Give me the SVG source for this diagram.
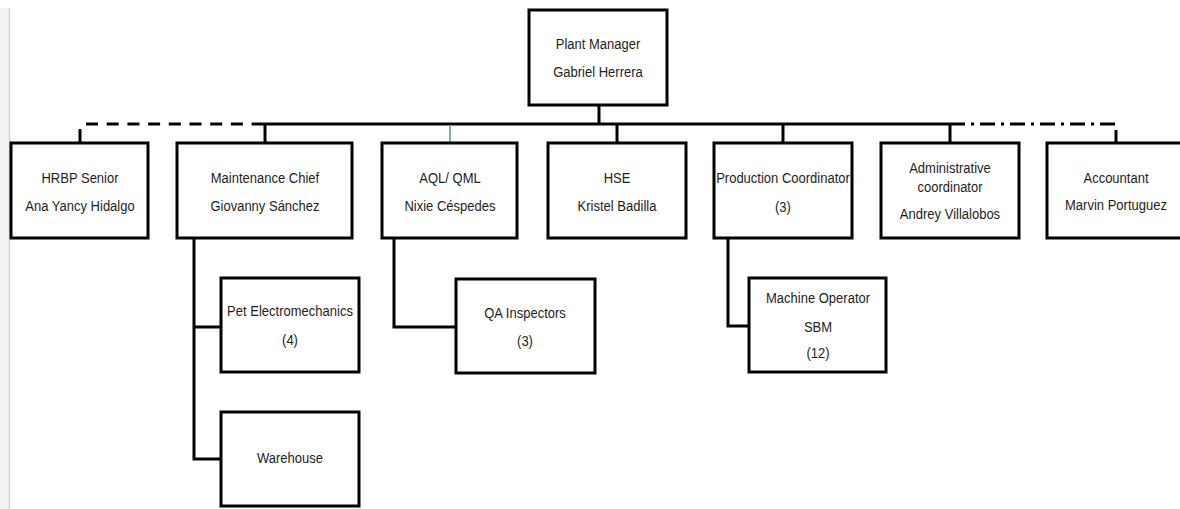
<svg xmlns="http://www.w3.org/2000/svg" width="1180" height="509" viewBox="0 0 1180 509">
  <style>
    .box { fill: #ffffff; stroke: #000000; stroke-width: 3; }
    .t { font-family: "Liberation Sans", Arial, sans-serif; font-size: 15.5px; fill: #1e1e1e; text-anchor: middle; transform-box: fill-box; transform-origin: center; transform: scaleX(0.84); }
    .c { fill: none; stroke: #000000; stroke-width: 3; }
  </style>
  <rect x="0" y="0" width="1180" height="509" fill="#ffffff"/>
  <rect x="0" y="8" width="9" height="501" fill="#f3f3f3"/>
  <line x1="9.5" y1="8" x2="9.5" y2="509" stroke="#d4d4d4" stroke-width="1.5"/>

  <g id="connectors">
    <line class="c" x1="599" y1="105" x2="599" y2="124"/>
    <line class="c" x1="258" y1="124" x2="950" y2="124"/>
    <line class="c" x1="86" y1="124" x2="258" y2="124" stroke-dasharray="12 8.7"/>
    <line class="c" x1="950" y1="124" x2="1115" y2="124" stroke-dasharray="15 6 3 6"/>
    <line class="c" x1="80" y1="129" x2="80" y2="143"/>
    <line class="c" x1="265" y1="124" x2="265" y2="143"/>
    <line x1="450" y1="125" x2="450" y2="143" stroke="#8aa8b0" stroke-width="2"/>
    <line class="c" x1="617" y1="124" x2="617" y2="143"/>
    <line class="c" x1="783" y1="124" x2="783" y2="143"/>
    <line class="c" x1="950" y1="124" x2="950" y2="143"/>
    <line class="c" x1="1116" y1="130" x2="1116" y2="143"/>
    <polyline class="c" points="194,238 194,459 221,459"/>
    <line class="c" x1="194" y1="327" x2="221" y2="327"/>
    <polyline class="c" points="394,238 394,327 456,327"/>
    <polyline class="c" points="728,238 728,326 749,326"/>
  </g>

  <g id="plant-manager">
    <rect class="box" x="529" y="10" width="138" height="95"/>
    <text class="t" x="598" y="49">Plant Manager</text>
    <text class="t" x="598" y="77">Gabriel Herrera</text>
  </g>
  <g id="hrbp">
    <rect class="box" x="11" y="143" width="137" height="95"/>
    <text class="t" x="80" y="183">HRBP Senior</text>
    <text class="t" x="80" y="211">Ana Yancy Hidalgo</text>
  </g>
  <g id="maintenance">
    <rect class="box" x="177" y="143" width="175" height="95"/>
    <text class="t" x="265" y="183">Maintenance Chief</text>
    <text class="t" x="265" y="211">Giovanny Sánchez</text>
  </g>
  <g id="aql">
    <rect class="box" x="382" y="143" width="135" height="95"/>
    <text class="t" x="450" y="183">AQL/ QML</text>
    <text class="t" x="450" y="211">Nixie Céspedes</text>
  </g>
  <g id="hse">
    <rect class="box" x="548" y="143" width="138" height="95"/>
    <text class="t" x="617" y="183">HSE</text>
    <text class="t" x="617" y="211">Kristel Badilla</text>
  </g>
  <g id="production">
    <rect class="box" x="714" y="143" width="138" height="95"/>
    <text class="t" x="783" y="183">Production Coordinator</text>
    <text class="t" x="783" y="212">(3)</text>
  </g>
  <g id="administrative">
    <rect class="box" x="881" y="143" width="138" height="95"/>
    <text class="t" x="950" y="173">Administrative</text>
    <text class="t" x="950" y="192">coordinator</text>
    <text class="t" x="950" y="219">Andrey Villalobos</text>
  </g>
  <g id="accountant">
    <rect class="box" x="1047" y="143" width="140" height="95"/>
    <text class="t" x="1116" y="183">Accountant</text>
    <text class="t" x="1116" y="210">Marvin Portuguez</text>
  </g>
  <g id="pet-electromechanics">
    <rect class="box" x="221" y="278" width="138" height="94"/>
    <text class="t" x="290" y="316">Pet Electromechanics</text>
    <text class="t" x="290" y="345">(4)</text>
  </g>
  <g id="warehouse">
    <rect class="box" x="221" y="412" width="138" height="94"/>
    <text class="t" x="290" y="463">Warehouse</text>
  </g>
  <g id="qa-inspectors">
    <rect class="box" x="456" y="279" width="139" height="94"/>
    <text class="t" x="525" y="318">QA Inspectors</text>
    <text class="t" x="525" y="346">(3)</text>
  </g>
  <g id="machine-operator">
    <rect class="box" x="749" y="278" width="137" height="94"/>
    <text class="t" x="818" y="303">Machine Operator</text>
    <text class="t" x="818" y="332">SBM</text>
    <text class="t" x="818" y="358">(12)</text>
  </g>
</svg>
